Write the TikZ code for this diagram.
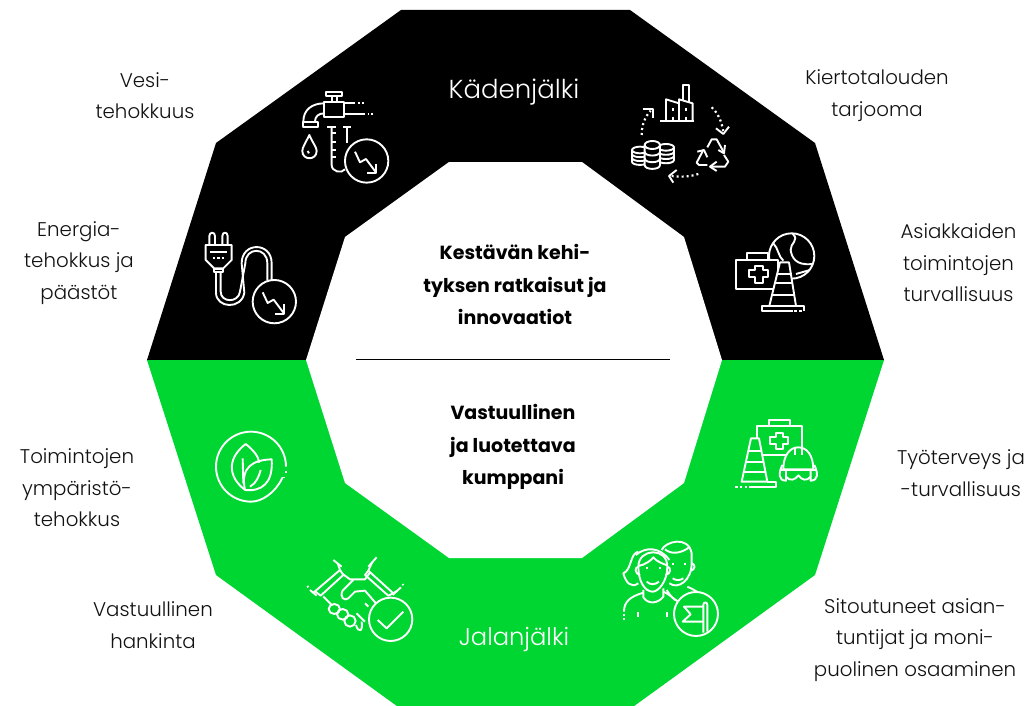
\documentclass[tikz,border=0pt]{standalone}
\usepackage{fontspec}
\setmainfont{Poppins Light}[BoldFont=Poppins Bold]
\definecolor{brandgreen}{RGB}{0,214,50}
\definecolor{labeltext}{RGB}{18,18,18}
\tikzset{
 ic/.style={draw=white,line width=1.9pt,line join=round},
 dots/.style={draw=white,line width=2.2pt,dash pattern=on 2pt off 3pt},
 lab/.style={align=center,text=labeltext,font=\fontsize{19.8}{31.5}\selectfont,inner sep=0pt},
 ring/.style={font=\fontsize{26}{30}\selectfont,text=white,inner sep=0pt},
 mid/.style={align=center,font=\bfseries\fontsize{19}{32.5}\selectfont,text=black,inner sep=0pt},
}
\newcommand{\trend}[2]{% arrow in circle, relative to circle centre
 \draw[ic] (#1-35,#2-28) -- (#1-20,#2+4) -- (#1-2,#2-6) -- (#1+28,#2+34);
 \draw[ic] (#1+28,#2+8) -- (#1+28,#2+36) -- (#1+2,#2+36);}
\newcommand{\stack}[5]{% x, top y, rx, ry, bottom y
 \fill[black] (#1-#3,#2) -- (#1-#3,#5) .. controls (#1-#3,#5+#4*1.3) and (#1+#3,#5+#4*1.3) .. (#1+#3,#5) -- (#1+#3,#2) -- cycle;
 \draw[ic] (#1,#2) ellipse [x radius=#3,y radius=#4];
 \draw[ic] (#1-#3,#2) -- (#1-#3,#5) .. controls (#1-#3,#5+#4*1.3) and (#1+#3,#5+#4*1.3) .. (#1+#3,#5) -- (#1+#3,#2);
 \foreach \k in {1,2}{\draw[ic] (#1-#3,#2+\k*#5/3-\k*#2/3) .. controls (#1-#3,#2+\k*#5/3-\k*#2/3+#4*1.3) and (#1+#3,#2+\k*#5/3-\k*#2/3+#4*1.3) .. (#1+#3,#2+\k*#5/3-\k*#2/3);}}
\begin{document}
\begin{tikzpicture}[x=1pt,y=-1pt]
\useasboundingbox (0,0) rectangle (1027,706);
\begin{scope}
\clip (0,0) rectangle (1027,706);
\fill[black] (147,360) -- (216,143) -- (401,10) -- (630,10) -- (815,143) -- (884,360) -- cycle;
\fill[brandgreen] (147,360) -- (216,575) -- (401,709) -- (630,709) -- (815,575) -- (884,360) -- cycle;
\fill[white] (449,162) -- (582,162) -- (684,237) -- (722,360) -- (684,483) -- (582,558) -- (449,558) -- (345,483) -- (306,360) -- (345,237) -- cycle;
\end{scope}
\coordinate (divL) at (356,359.5);
\coordinate (divR) at (670,359.5);
\draw[black,line width=.6pt] (divL) -- (divR);
% texts
\node[ring] (kaden) at (514,92.5) {Kädenjälki};
\node[ring,font=\fontsize{24.2}{30}\selectfont] (jalan) at (514,640) {Jalanjälki};
\node[mid] (m1) at (515,284.5) {Kestävän kehi-\\tyksen ratkaisut ja\\innovaatiot};
\node[mid] (m2) at (513,447) {Vastuullinen\\ja luotettava\\kumppani};
\node[lab] (l1) at (145,95.5) {Vesi-\\tehokkuus};
\node[lab] (l2) at (877,95.5) {Kiertotalouden\\tarjooma};
\node[lab] (l3) at (79,263) {Energia-\\tehokkus ja\\päästöt};
\node[lab] (l4) at (958.5,263) {Asiakkaiden\\toimintojen\\turvallisuus};
\node[lab] (l5) at (77,488) {Toimintojen\\ympäristö-\\tehokkus};
\node[lab] (l6) at (961,473) {Työterveys ja\\-turvallisuus};
\node[lab] (l7) at (153,625) {Vastuullinen\\hankinta};
\node[lab] (l8) at (915,640) {Sitoutuneet asian-\\tuntijat ja moni-\\puolinen osaaminen};
% === tap icon
\begin{scope}[shift={(190,70)},x=.3333pt,y=-.3333pt]
\draw[ic] (407,65) rectangle (457,78);
\draw[ic] (425,78) -- (425,95) (440,78) -- (440,95);
\draw[ic] (403,95) rectangle (463,140);
\draw[ic] (463,100) -- (495,100) (505,100) -- (510,100) (517,100) -- (522,100);
\draw[ic] (463,132) -- (525,132) (533,132) -- (537,132) (543,132) -- (548,132);
\draw[ic] (403,100) .. controls (365,100) and (340,120) .. (340,155);
\draw[ic] (403,130) .. controls (385,130) and (375,140) .. (375,155);
\draw[ic] (340,155) rectangle (383,172);
\draw[ic] (358,195) .. controls (345,222) and (337,232) .. (337,243) .. controls (337,272) and (380,272) .. (380,243) .. controls (380,232) and (370,222) .. (358,195) -- cycle;
\draw[ic] (353,243) -- (357,250);
\draw[ic] (412,170) -- (438,170) (460,170) -- (483,170);
\draw[ic] (425,170) -- (425,285) .. controls (425,305) and (455,312) .. (465,298);
\draw[ic] (472,170) -- (472,218);
\draw[ic] (425,190) -- (438,190) (425,215) -- (438,215) (425,240) -- (438,240) (425,262) -- (438,262);
\draw[ic] (530,273) circle [radius=65];
\trend{530}{273}
% === plug icon
\draw[ic] (58,525) -- (58,498) .. controls (58,485) and (75,485) .. (75,498) -- (75,525);
\draw[ic] (97,525) -- (97,498) .. controls (97,485) and (113,485) .. (113,498) -- (113,525);
\draw[ic] (47,525) -- (125,525) -- (125,570) -- (100,595) -- (72,595) -- (47,570) -- cycle;
\draw[ic] (60,547) -- (112,547);
\draw[ic] (68,563) -- (75,563) (82,563) -- (89,563) (96,563) -- (103,563);
\draw[ic] (72,597) rectangle (98,607);
\draw[ic] (78,607) -- (78,668) .. controls (78,715) and (155,720) .. (163,668) -- (155,580) .. controls (155,515) and (245,515) .. (245,580) -- (245,632);
\draw[ic] (92,607) -- (92,665) .. controls (92,698) and (145,700) .. (150,665) -- (166,580) .. controls (166,530) and (232,530) .. (232,580) -- (232,632);
\path[draw=white,line width=1.9pt,fill=black] (253,695) circle [radius=65];
\trend{253}{695}
\end{scope}
% === factory / circular
\begin{scope}[shift={(610,70)},x=.3333pt,y=-.3333pt]
\draw[ic] (150,153) -- (252,153);
\draw[ic] (168,153) -- (168,88) -- (207,100) -- (207,153);
\draw[ic] (207,100) -- (207,88) -- (248,100) -- (248,153);
\draw[ic] (218,92) -- (218,45) -- (237,45) -- (237,96);
\draw[ic] (190,113) -- (190,122) (228,113) -- (228,122) (190,140) -- (190,153) (228,140) -- (228,153);
\draw[dots] (95,195) .. controls (95,165) and (105,140) .. (122,122);
\draw[ic] (98,118) -- (128,118) -- (128,143);
\draw[dots] (305,112) .. controls (325,130) and (335,155) .. (340,185);
\draw[ic] (318,175) -- (340,192) -- (357,170);
\draw[dots] (265,312) .. controls (240,320) and (215,322) .. (185,318);
\draw[ic] (200,300) -- (177,318) -- (190,338);
\stack{90}{240}{24}{10}{275}
\stack{168}{232}{24}{10}{270}
\stack{127}{225}{23}{12}{285}
% recycle
\draw[ic] (292,232) -- (305,208) -- (320,208) -- (342,248);
\draw[ic] (325,240) -- (342,250) -- (345,225);
\draw[ic] (280,240) -- (260,278) -- (267,285) -- (292,285);
\draw[ic] (262,245) -- (282,240) -- (292,262);
\draw[ic] (300,290) -- (345,290) -- (355,275) -- (342,255);
\draw[ic] (320,275) -- (300,290) -- (320,303);
% globe case cone
\draw[ic] (545,558) circle [radius=68];
\draw[ic] (548,492) .. controls (570,510) and (540,520) .. (542,540) .. controls (545,560) and (555,588) .. (607,582);
\draw[ic] (490,520) .. controls (505,535) and (505,560) .. (520,572);
\draw[ic] (558,612) -- (600,600);
\path[ic,fill=black] (412,570) -- (412,550) -- (475,550) -- (475,570);
\path[ic,fill=black] (378,570) -- (503,570) -- (503,658) -- (378,658) -- cycle;
\draw[ic] (418,600) -- (434,600) -- (434,588) -- (458,588) -- (458,600) -- (473,600) -- (473,622) -- (458,622) -- (458,638) -- (434,638) -- (434,622) -- (418,622) -- cycle;
\path[ic,fill=black] (478,708) -- (510,577) -- (537,577) -- (558,708) -- cycle;
\draw[ic] (500,612) -- (545,612) (492,640) -- (550,640) (485,675) -- (555,675);
\path[ic,fill=black] (457,708) -- (583,708) -- (583,722) -- (457,722) -- cycle;
\fill[black] (548,716) rectangle (586,726);
\draw[ic] (457,722) -- (545,722) (553,722) -- (560,722) (568,722) -- (575,722);
\draw[ic] (583,712) -- (583,722);
\end{scope}
% === leaf + handshake
\begin{scope}[shift={(190,420)},x=.3333pt,y=-.3333pt]
\draw[ic] (278,172) .. controls (255,220) and (215,245) .. (183,245) .. controls (125,245) and (78,198) .. (78,140) .. controls (78,82) and (125,35) .. (183,35) .. controls (241,35) and (288,82) .. (288,140);
\draw[ic] (288,152) -- (288,158) (283,170) -- (283,175);
\draw[ic] (163,208) .. controls (120,175) and (105,120) .. (167,72) .. controls (190,90) and (205,108) .. (208,128);
\draw[ic] (165,210) .. controls (150,140) and (190,120) .. (245,118) .. controls (250,190) and (215,215) .. (165,210) -- cycle;
\draw[ic] (160,190) -- (158,115);
\draw[ic] (180,200) .. controls (200,190) and (208,165) .. (212,150);
% cuffs
\draw[ic] (430,420) -- (455,440) (360,510) -- (380,527);
\draw[ic] (443,430) -- (450,450) -- (375,514) -- (370,518) (450,450) -- (460,465) -- (392,527) -- (375,514);
\draw[ic] (535,440) -- (560,412) (608,525) -- (633,502);
\draw[ic] (547,426) -- (535,452) -- (610,520) -- (620,513) (535,452) -- (525,465) -- (595,527) -- (610,520);
\draw[ic] (352,498) -- (355,502) (638,492) -- (640,496);
\draw[ic] (458,462) -- (480,478) -- (525,478) -- (540,458);
\draw[ic] (490,480) -- (458,512) .. controls (448,530) and (462,545) .. (475,535) -- (495,515) -- (525,512) -- (558,550);
\draw[ic] (400,530) -- (425,555);
\draw[ic] (433,567) ellipse [x radius=17,y radius=15];
\draw[ic] (458,583) ellipse [x radius=17,y radius=16];
\draw[ic] (480,603) ellipse [x radius=17,y radius=17];
\draw[ic] (498,615) .. controls (505,640) and (520,635) .. (515,605);
\draw[ic] (500,580) -- (525,605) (525,550) -- (535,560);
\path[draw=white,line width=1.9pt,fill=brandgreen] (602,598) circle [radius=65];
\draw[ic] (563,600) -- (590,625) -- (640,575);
\end{scope}
% === case cone helmet + people
\begin{scope}[shift={(610,410)},x=.3333pt,y=-.3333pt]
\draw[ic] (477,47) -- (477,30) -- (540,30) -- (540,47);
\draw[ic] (440,85) -- (440,47) -- (577,47) -- (577,120);
\draw[ic] (460,135) -- (530,135);
\draw[ic] (481,82) -- (497,82) -- (497,68) -- (520,68) -- (520,82) -- (535,82) -- (535,103) -- (520,103) -- (520,117) -- (497,117) -- (497,103) -- (481,103) -- cycle;
\path[ic,fill=brandgreen] (395,215) -- (423,85) -- (447,85) -- (472,215) -- cycle;
\draw[ic] (415,122) -- (455,122) (408,155) -- (462,155) (402,185) -- (467,185);
\draw[ic] (418,232) -- (497,232) -- (497,216) -- (472,216);
\draw[ic] (376,232) -- (383,232) (390,232) -- (397,232) (404,232) -- (411,232);
\path[ic,fill=brandgreen] (520,178) .. controls (520,135) and (540,112) .. (565,112) .. controls (590,112) and (610,135) .. (610,178) -- cycle;
\draw[ic] (555,113) -- (555,135) (575,113) -- (575,135);
\draw[ic] (517,165) .. controls (505,190) and (505,212) .. (528,212) -- (528,182);
\draw[ic] (613,165) .. controls (625,190) and (625,212) .. (602,212) -- (602,182);
\draw[ic] (510,180) -- (620,180);
\draw[ic] (528,200) .. controls (540,215) and (555,210) .. (565,196) .. controls (575,210) and (590,215) .. (602,200);
% man
\draw[ic] (155,420) .. controls (165,395) and (235,375) .. (245,430) -- (245,460) .. controls (245,510) and (205,540) .. (178,520);
\draw[ic] (165,418) .. controls (185,435) and (215,430) .. (240,410);
\draw[ic] (245,460) .. controls (258,462) and (255,480) .. (243,482);
\draw[ic] (190,458) -- (190,464) (225,458) -- (225,464);
\draw[ic] (188,505) .. controls (198,512) and (210,512) .. (220,505);
\draw[ic] (170,540) .. controls (185,565) and (195,568) .. (205,575);
\draw[ic] (232,530) .. controls (250,538) and (262,545) .. (275,555);
% woman
\draw[ic] (78,435) .. controls (105,410) and (150,410) .. (178,450);
\draw[ic] (85,425) .. controls (60,430) and (65,480) .. (40,490) .. controls (48,520) and (65,535) .. (85,520);
\path[ic,fill=brandgreen] (85,470) .. controls (85,415) and (172,410) .. (172,470) .. controls (172,515) and (145,545) .. (128,545) .. controls (105,545) and (85,515) .. (85,470) -- cycle;
\draw[ic] (85,468) .. controls (105,465) and (125,450) .. (130,442) .. controls (140,455) and (160,462) .. (172,466);
\draw[ic] (85,470) .. controls (72,472) and (75,492) .. (90,495);
\draw[ic] (172,470) .. controls (185,472) and (182,492) .. (167,495);
\draw[ic] (110,472) -- (110,478) (150,472) -- (150,478);
\draw[ic] (110,515) .. controls (120,525) and (135,525) .. (147,515);
\draw[ic] (100,540) -- (100,562) .. controls (115,585) and (145,580) .. (160,560) -- (160,535);
\draw[ic] (100,548) .. controls (60,560) and (42,575) .. (42,605);
\draw[ic] (160,545) .. controls (175,552) and (185,560) .. (195,570);
\draw[ic] (42,612) -- (42,617) (42,624) -- (42,630);
\draw[ic,line width=2.2pt] (85,605) -- (85,620) (172,605) -- (172,620);
\path[draw=white,line width=1.9pt,fill=brandgreen] (258,612) circle [radius=66];
\draw[ic] (280,668) -- (280,585) .. controls (280,575) and (292,575) .. (292,585) -- (292,665);
\draw[ic] (280,590) -- (222,590) -- (242,613) -- (218,635) -- (280,635);
\end{scope}
\end{tikzpicture}
\end{document}
